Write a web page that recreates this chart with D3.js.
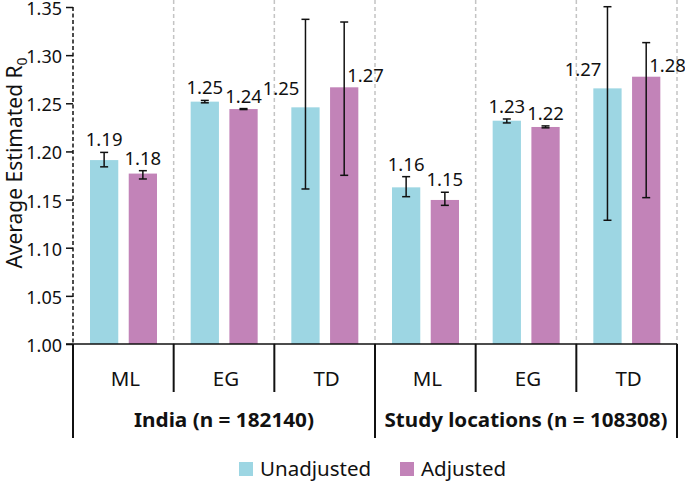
<!DOCTYPE html>
<html><head><meta charset="utf-8">
<script src="https://cdn.jsdelivr.net/npm/d3@7"></script>
<style>body{margin:0;background:#fff}svg{display:block;font-family:"Noto Sans",sans-serif}</style>
</head><body><svg id="c" width="685" height="481"></svg>
<script>
const groups = ["India (n = 182140)", "Study locations (n = 108308)"];
const methods = ["ML", "EG", "TD"];
const series = ["Unadjusted", "Adjusted"];
const unadjusted = [1.191, 1.2517, 1.2458, 1.1627, 1.2319, 1.2655];
const unadjLow = [1.184, 1.2505, 1.161, 1.153, 1.2296, 1.1285];
const unadjHigh = [1.199, 1.253, 1.3372, 1.1738, 1.2337, 1.3503];
const adjusted = [1.177, 1.244, 1.2666, 1.1496, 1.2254, 1.2776];
const adjLow = [1.1714, 1.2435, 1.1752, 1.144, 1.2245, 1.152];
const adjHigh = [1.180, 1.2445, 1.3344, 1.1576, 1.2265, 1.313];
const labels = ["1.19","1.18","1.25","1.24","1.25","1.27","1.16","1.15","1.23","1.22","1.27","1.28"];
const yTicks = [1.00,1.05,1.10,1.15,1.20,1.25,1.30,1.35];
const colors = ["#9dd6e3", "#c283b8"];

const svg = d3.select("#c");
const L = 73, R = 677, T = 7, B = 344;
const y = d3.scaleLinear().domain([1, 1.35]).range([B, T]);
const panels = d3.range(6);
const x = d3.scaleBand().domain(panels).range([L, R]).paddingInner(0).paddingOuter(0);
const inner = d3.scaleBand().domain([0,1]).range([17, 84]).paddingInner(0.27);

// dividers
svg.append("g").selectAll("line").data(panels.slice(1).concat([6])).join("line")
  .attr("x1", d => L + d * x.bandwidth()).attr("x2", d => L + d * x.bandwidth())
  .attr("y1", 0).attr("y2", B)
  .attr("stroke", "#c4c4c4").attr("stroke-width", 1.5).attr("stroke-dasharray", "4,3");

// bars
const rows = [];
panels.forEach(p => {
  rows.push({p, s:0, v:unadjusted[p], lo:unadjLow[p], hi:unadjHigh[p], lab:labels[p*2]});
  rows.push({p, s:1, v:adjusted[p], lo:adjLow[p], hi:adjHigh[p], lab:labels[p*2+1]});
});
const bx = d => x(d.p) + inner(d.s);
const cx = d => bx(d) + inner.bandwidth()/2;
svg.append("g").selectAll("rect").data(rows).join("rect")
  .attr("x", bx).attr("width", inner.bandwidth())
  .attr("y", d => y(d.v)).attr("height", d => B - y(d.v))
  .attr("fill", d => colors[d.s]);

// error bars
const eg = svg.append("g").attr("stroke", "#111").attr("stroke-width", 1.5);
eg.selectAll(".v").data(rows).join("line")
  .attr("x1", cx).attr("x2", cx).attr("y1", d => y(d.lo)).attr("y2", d => y(d.hi));
eg.selectAll(".t").data(rows).join("line")
  .attr("x1", d => cx(d)-4).attr("x2", d => cx(d)+4).attr("y1", d => y(d.hi)).attr("y2", d => y(d.hi));
eg.selectAll(".b").data(rows).join("line")
  .attr("x1", d => cx(d)-4).attr("x2", d => cx(d)+4).attr("y1", d => y(d.lo)).attr("y2", d => y(d.lo));

// value labels
svg.append("g").selectAll("text").data(rows).join("text")
  .attr("font-size", 18.5).attr("fill", "#111")
  .attr("text-anchor", d => d.p % 3 === 2 ? (d.s === 0 ? "end" : "start") : "middle")
  .attr("x", d => d.p % 3 === 2 ? (d.s === 0 ? cx(d) - 6 : cx(d) + 3) : cx(d))
  .attr("y", d => d.p % 3 === 2 ? (d.s === 0 ? y(d.v) - 12 : y(d.v) - 5) : y(d.hi) - 6)
  .text(d => d.lab);

// y axis
const ya = svg.append("g").attr("transform", `translate(${L},0)`)
  .call(d3.axisLeft(y).tickValues(yTicks).tickSize(7).tickFormat(d3.format(".2f")));
ya.select(".domain").remove();
ya.selectAll(".tick line").attr("stroke", "#111").attr("stroke-width", 1.5);
ya.selectAll(".tick text").attr("font-size", 18).attr("fill", "#111").attr("font-family", "Noto Sans").attr("dx", -1).attr("dy", "0.42em");
svg.append("line").attr("x1", L).attr("x2", L).attr("y1", T).attr("y2", B)
  .attr("stroke", "#111").attr("stroke-width", 1.5).attr("stroke-dasharray", "4,2.5");

// x axis structure
svg.append("line").attr("x1", L - 7).attr("x2", R).attr("y1", B).attr("y2", B)
  .attr("stroke", "#111").attr("stroke-width", 1.5);
svg.append("g").selectAll("line").data(d3.range(7)).join("line")
  .attr("x1", d => L + d * x.bandwidth()).attr("x2", d => L + d * x.bandwidth())
  .attr("y1", B).attr("y2", d => d % 3 === 0 ? 438 : 392)
  .attr("stroke", "#111").attr("stroke-width", 2);

svg.append("g").selectAll("text").data(panels).join("text")
  .attr("x", d => x(d) + x.bandwidth()/2 + 2).attr("y", 386)
  .attr("text-anchor", "middle").attr("font-size", 20.5).attr("fill", "#111")
  .text(d => methods[d % 3]);

svg.append("g").selectAll("text").data(groups).join("text")
  .attr("x", (d, i) => L + (i * 3 + 1.5) * x.bandwidth()).attr("y", 427)
  .attr("text-anchor", "middle").attr("font-size", 20).attr("font-weight", "bold").attr("fill", "#111")
  .attr("textLength", (d, i) => i === 0 ? 180 : 283).attr("lengthAdjust", "spacingAndGlyphs")
  .text(d => d);

// y title
svg.append("text").attr("transform", "translate(22,163) rotate(-90)")
  .attr("text-anchor", "middle").attr("font-size", 21).attr("fill", "#111")
  .text("Average Estimated R").append("tspan").attr("font-size", 14).attr("dy", 5).text("0");

// legend
const lg = svg.append("g").selectAll("g").data(series).join("g")
  .attr("transform", (d, i) => `translate(${i === 0 ? 239 : 400},462)`);
lg.append("rect").attr("width", 14).attr("height", 14).attr("fill", (d, i) => colors[i]);
lg.append("text").attr("x", 21).attr("y", 13.5).attr("font-size", 20.5).attr("fill", "#111").text(d => d);
</script></body></html>
